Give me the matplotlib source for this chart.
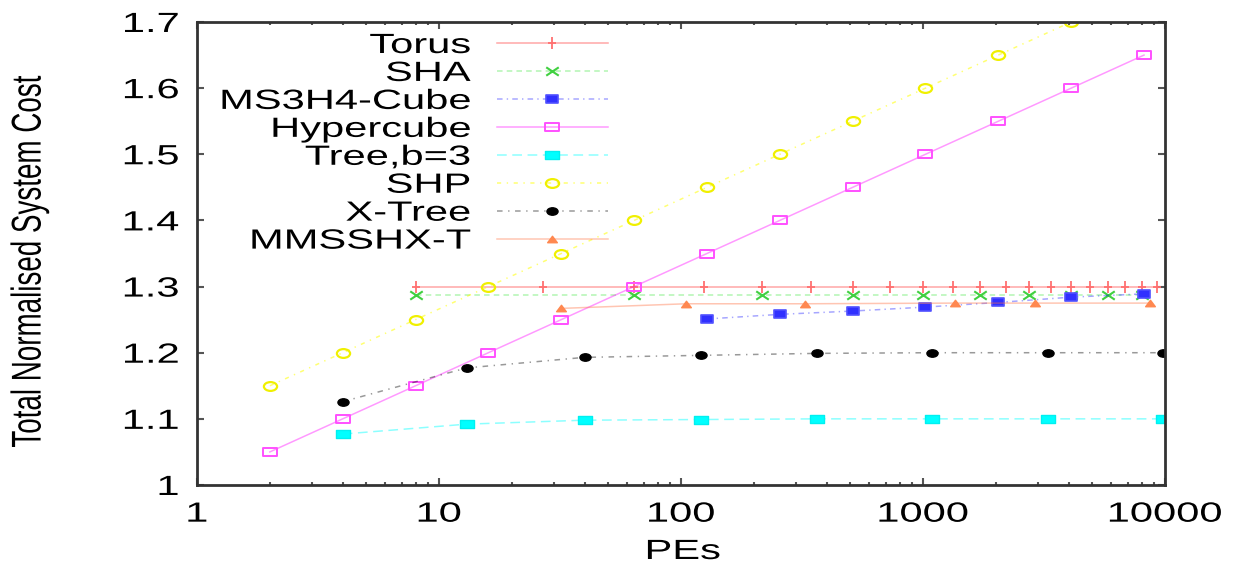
import matplotlib
matplotlib.use("Agg")
import matplotlib.pyplot as plt
import matplotlib.patheffects as pe
import matplotlib.colors as mc
from matplotlib.transforms import Affine2D
from matplotlib.path import Path
from matplotlib.ticker import FixedLocator, FixedFormatter, LogLocator, NullFormatter

# ---------------- data ----------------
torus_x = [8, 27, 64, 125, 216, 343, 512, 729, 1000, 1331, 1728, 2197, 2744,
           3375, 4096, 4913, 5832, 6859, 8000, 9261]
torus_y = [1.3, 1.3, 1.3, 1.3, 1.3, 1.3, 1.3, 1.3, 1.3, 1.3, 1.3, 1.3, 1.3,
           1.3, 1.3, 1.3, 1.3, 1.3, 1.3, 1.3]

sha_x = [8, 64, 216, 512, 1000, 1728, 2744, 4096, 5832, 8000]
sha_y = [1.288, 1.288, 1.288, 1.288, 1.288, 1.288, 1.288, 1.288, 1.288, 1.288]

ms3_x = [128, 256, 512, 1024, 2048, 4096, 8192]
ms3_y = [1.251, 1.258, 1.263, 1.269, 1.276, 1.284, 1.289]

hyper_x = [2, 4, 8, 16, 32, 64, 128, 256, 512, 1024, 2048, 4096, 8192]
hyper_y = [1.05, 1.10, 1.15, 1.20, 1.25, 1.30, 1.35, 1.40, 1.45, 1.50, 1.55, 1.60, 1.65]

tree_x = [4, 13, 40, 121, 364, 1093, 3280, 9841]
tree_y = [1.077, 1.092, 1.098, 1.099, 1.100, 1.100, 1.100, 1.100]

shp_x = [2, 4, 8, 16, 32, 64, 128, 256, 512, 1024, 2048, 4096]
shp_y = [1.15, 1.20, 1.25, 1.30, 1.35, 1.40, 1.45, 1.50, 1.55, 1.60, 1.65, 1.70]

xtree_x = [4, 13, 40, 121, 364, 1093, 3280, 9841]
xtree_y = [1.126, 1.177, 1.193, 1.196, 1.199, 1.200, 1.200, 1.200]

mm_x = [32, 105, 324, 1350, 2900, 8700]
mm_y = [1.267, 1.274, 1.274, 1.275, 1.275, 1.275]

series_labels = ["Torus", "SHA", "MS3H4-Cube", "Hypercube", "Tree,b=3", "SHP",
                 "X-Tree", "MMSSHX-T"]
xtick_vals = [1, 10, 100, 1000, 10000]
xtick_labels = ["1", "10", "100", "1000", "10000"]
ytick_vals = [1.0, 1.1, 1.2, 1.3, 1.4, 1.5, 1.6, 1.7]
ytick_labels = ["1", "1.1", "1.2", "1.3", "1.4", "1.5", "1.6", "1.7"]


# ---------------- helpers ----------------
class HStretch(pe.AbstractPathEffect):
    """Stretch rendered text horizontally (screen x) around an anchor."""
    def __init__(self, sx=1.5, anchor="center"):
        super().__init__((0, 0))
        self.sx = sx
        self.anchor = anchor

    def draw_path(self, renderer, gc, tpath, affine, rgbFace=None):
        ext = tpath.get_extents(affine)
        if self.anchor == "right":
            cx = ext.x1
        elif self.anchor == "left":
            cx = ext.x0
        else:
            cx = 0.5 * (ext.x0 + ext.x1)
        tr = affine + Affine2D().translate(-cx, 0).scale(self.sx, 1).translate(cx, 0)
        renderer.draw_path(gc, tpath, tr, rgbFace)


def wide_rect():
    return Path([(-1.5, -1), (1.5, -1), (1.5, 1), (-1.5, 1), (-1.5, -1)],
                [Path.MOVETO, Path.LINETO, Path.LINETO, Path.LINETO, Path.CLOSEPOLY])


def wide_ellipse():
    c = Path.unit_circle()
    return Path(c.vertices * [1.5, 1.0], c.codes)


def wide_tri():
    return Path([(-1.5, -1), (1.5, -1), (0, 1), (-1.5, -1)],
                [Path.MOVETO, Path.LINETO, Path.LINETO, Path.CLOSEPOLY])


def wide_x():
    return Path([(-1.5, -1), (1.5, 1), (-1.5, 1), (1.5, -1)],
                [Path.MOVETO, Path.LINETO, Path.MOVETO, Path.LINETO])


def wide_plus():
    return Path([(-1.0, 0), (1.0, 0), (0, -1.3), (0, 1.3)],
                [Path.MOVETO, Path.LINETO, Path.MOVETO, Path.LINETO])


def rgba(c, a):
    r, g, b = mc.to_rgb(c)
    return (r, g, b, a)


plt.rcParams["lines.scale_dashes"] = False
FONT = "Liberation Sans"
FS = 20

fig = plt.figure(figsize=(12.41, 5.66), dpi=100)
ax = fig.add_axes([197 / 1241, 1 - 485 / 566, 968 / 1241, 463 / 566])

specs = [
    (torus_x, torus_y, "#ff0000", 0.35, "-", wide_plus(), 8, "#ff7070", None, 1.3),
    (sha_x, sha_y, "#00e000", 0.30, (0, (4, 3)), wide_x(), 9, "#40d040", "#40ee40", 1.5),
    (ms3_x, ms3_y, "#0000ff", 0.35, (0, (4, 3, 1, 3)), wide_rect(), 8.5, "#5050ff", "#3030ff", 1.2),
    (hyper_x, hyper_y, "#ff00ff", 0.40, "-", wide_rect(), 9.5, "#ff50ff", "none", 1.4),
    (tree_x, tree_y, "#00ffff", 0.45, (0, (7, 4)), wide_rect(), 9.5, "#00f0f0", "#00ffff", 1.0),
    (shp_x, shp_y, "#ffff00", 0.55, (0, (3, 4, 1, 4)), wide_ellipse(), 9.5, "#f0f000", "none", 1.6),
    (xtree_x, xtree_y, "#000000", 0.40, (0, (4, 4, 1, 4)), wide_ellipse(), 8.0, "#000000", "#000000", 1.0),
    (mm_x, mm_y, "#ff7040", 0.40, "-", wide_tri(), 7, "#ff8850", "#ff8850", 1.0),
]

for (xs, ys, col, alpha, ls, mk, ms, mec, mfc, mew), lab in zip(specs, series_labels):
    kw = dict(color=rgba(col, alpha), lw=1.1, ls=ls, marker=mk, ms=ms,
              mec=mec, mew=mew, label=lab, clip_on=True)
    if mfc is not None:
        kw["mfc"] = mfc
    ax.plot(xs, ys, **kw)

ax.set_xscale("log")
ax.set_xlim(1, 10000)
ax.set_ylim(1.0, 1.7)

ax.xaxis.set_major_locator(FixedLocator(xtick_vals))
ax.xaxis.set_major_formatter(FixedFormatter(xtick_labels))
ax.xaxis.set_minor_locator(LogLocator(base=10, subs=[2, 3, 4, 5, 6, 7, 8, 9]))
ax.xaxis.set_minor_formatter(NullFormatter())
ax.yaxis.set_major_locator(FixedLocator(ytick_vals))
ax.yaxis.set_major_formatter(FixedFormatter(ytick_labels))

for s in ax.spines.values():
    s.set_color("#333333")
    s.set_linewidth(2.0)

ax.tick_params(axis="both", which="both", direction="in", top=True, right=True,
               color="#555555")
ax.tick_params(axis="both", which="major", length=5, width=1.5, labelsize=FS)
ax.tick_params(axis="both", which="minor", length=2.5, width=1.5)
ax.tick_params(axis="x", which="major", pad=12)
ax.tick_params(axis="y", which="major", pad=13)
for lbl in ax.get_xticklabels() + ax.get_yticklabels():
    lbl.set_family(FONT)

ax.set_xlabel("PEs", fontsize=FS, family=FONT)
ax.xaxis.set_label_coords((683 - 197) / 968, (485 - 552) / 463)
ax.xaxis.label.set_va("center")
ax.set_ylabel("Total Normalised System Cost", fontsize=FS, family=FONT)
ax.yaxis.set_label_coords((30 - 197) / 968, (485 - 262) / 463)
ax.yaxis.label.set_va("center")

leg = ax.legend(loc="upper right", bbox_to_anchor=(608 / 1241, 1 - 33 / 566),
                bbox_transform=fig.transFigure, frameon=False, markerfirst=False,
                handlelength=4.0, handletextpad=0.95, labelspacing=0.07,
                borderpad=0, borderaxespad=0, numpoints=1,
                prop={"family": FONT, "size": FS})

fig.canvas.draw()
for lbl in ax.get_xticklabels():
    lbl.set_path_effects([HStretch(1.5, "center")])
for lbl in ax.get_yticklabels():
    lbl.set_path_effects([HStretch(1.5, "right")])
ax.xaxis.label.set_path_effects([HStretch(1.5, "center")])
ax.yaxis.label.set_path_effects([HStretch(1.5, "center")])
for t in leg.get_texts():
    t.set_path_effects([HStretch(1.5, "right")])

fig.savefig("out.png", dpi=100)
